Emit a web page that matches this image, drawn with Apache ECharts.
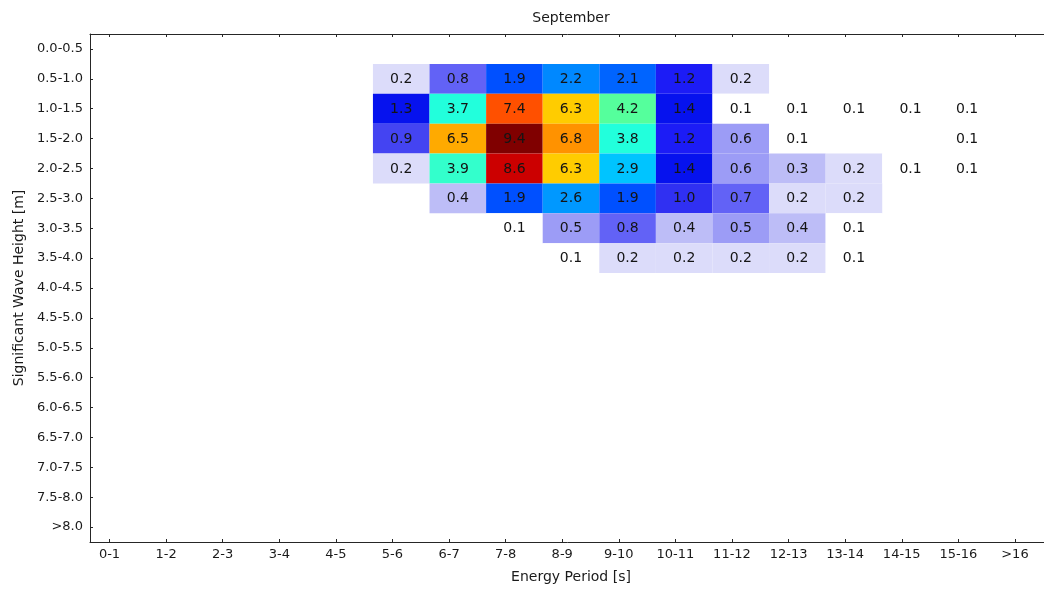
<!DOCTYPE html>
<html>
<head>
<meta charset="utf-8">
<script src="https://cdn.jsdelivr.net/npm/echarts@6/dist/echarts.min.js"></script>
<style>html,body{margin:0;padding:0;background:#fff}#c{width:1044px;height:592px}</style>
</head>
<body>
<div id="c"></div>
<script>
// Energy period bins (columns) and significant wave height bins (rows)
const periodLabels = ['0-1','1-2','2-3','3-4','4-5','5-6','6-7','7-8','8-9','9-10','10-11','11-12','12-13','13-14','14-15','15-16','>16'];
const heightLabels = ['0.0-0.5','0.5-1.0','1.0-1.5','1.5-2.0','2.0-2.5','2.5-3.0','3.0-3.5','3.5-4.0','4.0-4.5','4.5-5.0','5.0-5.5','5.5-6.0','6.0-6.5','6.5-7.0','7.0-7.5','7.5-8.0','>8.0'];

// Occurrence [%] per height row, one value per period column (null = empty)
const hs00_05 = [null,null,null,null,null,null,null,null,null,null,null,null,null,null,null,null,null];
const hs05_10 = [null,null,null,null,null,0.2,0.8,1.9,2.2,2.1,1.2,0.2,null,null,null,null,null];
const hs10_15 = [null,null,null,null,null,1.3,3.7,7.4,6.3,4.2,1.4,0.1,0.1,0.1,0.1,0.1,null];
const hs15_20 = [null,null,null,null,null,0.9,6.5,9.4,6.8,3.8,1.2,0.6,0.1,null,null,0.1,null];
const hs20_25 = [null,null,null,null,null,0.2,3.9,8.6,6.3,2.9,1.4,0.6,0.3,0.2,0.1,0.1,null];
const hs25_30 = [null,null,null,null,null,null,0.4,1.9,2.6,1.9,1.0,0.7,0.2,0.2,null,null,null];
const hs30_35 = [null,null,null,null,null,null,null,0.1,0.5,0.8,0.4,0.5,0.4,0.1,null,null,null];
const hs35_40 = [null,null,null,null,null,null,null,null,0.1,0.2,0.2,0.2,0.2,0.1,null,null,null];

const rows = [hs00_05, hs05_10, hs10_15, hs15_20, hs20_25, hs25_30, hs30_35, hs35_40];

const cells = [];
rows.forEach((row, r) => row.forEach((v, c) => { if (v !== null) cells.push([c, r, v]); }));

// style constants
const FONT = '"DejaVu Sans", "Liberation Sans", sans-serif';
const AX = '#262626';
const TXT = '#1a1a1a';
const TICK_OFFSET = 0.345; // tick position inside each period cell (axis units)
const tickVals = periodLabels.map((_, i) => i + TICK_OFFSET);

function renderCell(params, api) {
  const c = api.value(0), r = api.value(1), v = api.value(2);
  const p = api.coord([c, r]);
  const s = api.size([1, 1], [c, r]);
  return {
    type: 'group',
    children: [
      { type: 'rect', shape: { x: p[0], y: p[1] - s[1] / 2, width: s[0], height: s[1] },
        style: { fill: api.visual('color') } },
      { type: 'text', x: p[0] + s[0] / 2, y: p[1] + 0.5,
        style: { text: v.toFixed(1), align: 'center', verticalAlign: 'middle',
                 fill: '#141414', font: '14px ' + FONT } }
    ]
  };
}

const chart = echarts.init(document.getElementById('c'), null, { renderer: 'canvas' });
chart.setOption({
  animation: false,
  backgroundColor: '#fff',
  grid: { left: 90, top: 34, width: 962, height: 508, outerBoundsMode: 'none', containLabel: false },
  visualMap: {
    type: 'piecewise', show: false, seriesIndex: 0, dimension: 2,
    pieces: [
      { lt: 0.15, color: '#ffffff' },
      { gte: 0.15, lt: 0.25, color: '#dcdcfa' },
      { gte: 0.25, lt: 0.45, color: '#bdbdf7' },
      { gte: 0.45, lt: 0.65, color: '#9c9cf6' },
      { gte: 0.65, lt: 0.85, color: '#6262f6' },
      { gte: 0.85, lt: 0.95, color: '#4444f2' },
      { gte: 0.95, lt: 1.1, color: '#3030f2' },
      { gte: 1.1, lt: 1.25, color: '#1c1cf6' },
      { gte: 1.25, lt: 1.5, color: '#0612ee' },
      { gte: 1.5, lt: 2.0, color: '#0050ff' },
      { gte: 2.0, lt: 2.15, color: '#0064ff' },
      { gte: 2.15, lt: 2.4, color: '#0088ff' },
      { gte: 2.4, lt: 2.75, color: '#0098ff' },
      { gte: 2.75, lt: 3.3, color: '#00c4ff' },
      { gte: 3.3, lt: 3.85, color: '#22ffdc' },
      { gte: 3.85, lt: 4.0, color: '#33ffcc' },
      { gte: 4.0, lt: 5.0, color: '#55ff9c' },
      { gte: 5.0, lt: 6.4, color: '#ffcc00' },
      { gte: 6.4, lt: 6.6, color: '#ffaa00' },
      { gte: 6.6, lt: 7.0, color: '#ff9200' },
      { gte: 7.0, lt: 8.0, color: '#ff5000' },
      { gte: 8.0, lt: 9.0, color: '#cc0000' },
      { gte: 9.0, color: '#800000' }
    ]
  },
  xAxis: [
    {
      type: 'value', position: 'bottom', min: 0, max: 17,
      axisLine: { show: true, onZero: false, lineStyle: { color: AX, width: 1 } },
      axisTick: { show: true, inside: true, length: 3, customValues: tickVals, lineStyle: { color: AX } },
      axisLabel: { show: true, customValues: tickVals, margin: 6,
        formatter: v => periodLabels[Math.round(v - TICK_OFFSET)],
        color: TXT, fontSize: 13, fontFamily: FONT },
      splitLine: { show: false },
      name: 'Energy Period [s]', nameLocation: 'middle', nameGap: 28,
      nameTextStyle: { color: TXT, fontSize: 14, fontFamily: FONT }
    },
    {
      type: 'value', position: 'top', min: 0, max: 17,
      axisLine: { show: true, onZero: false, lineStyle: { color: AX, width: 1 } },
      axisTick: { show: true, inside: true, length: 3, customValues: tickVals, lineStyle: { color: AX } },
      axisLabel: { show: false },
      splitLine: { show: false },
      name: 'September', nameLocation: 'middle', nameGap: 9,
      nameTextStyle: { color: TXT, fontSize: 14, fontFamily: FONT }
    }
  ],
  yAxis: {
    type: 'category', inverse: true, data: heightLabels, boundaryGap: true,
    axisLine: { show: true, onZero: false, lineStyle: { color: AX, width: 1 } },
    axisTick: { show: true, inside: true, length: 3, alignWithLabel: true, interval: 0, lineStyle: { color: AX } },
    axisLabel: { show: true, interval: 0, margin: 7, color: TXT, fontSize: 13, fontFamily: FONT },
    splitLine: { show: false },
    name: 'Significant Wave Height [m]', nameLocation: 'middle', nameGap: 64, nameRotate: 90,
    nameTextStyle: { color: TXT, fontSize: 14, fontFamily: FONT }
  },
  series: [{
    type: 'custom', xAxisIndex: 0, yAxisIndex: 0,
    renderItem: renderCell,
    encode: { x: 0, y: 1 },
    data: cells,
    clip: false
  }]
});
</script>
</body>
</html>
